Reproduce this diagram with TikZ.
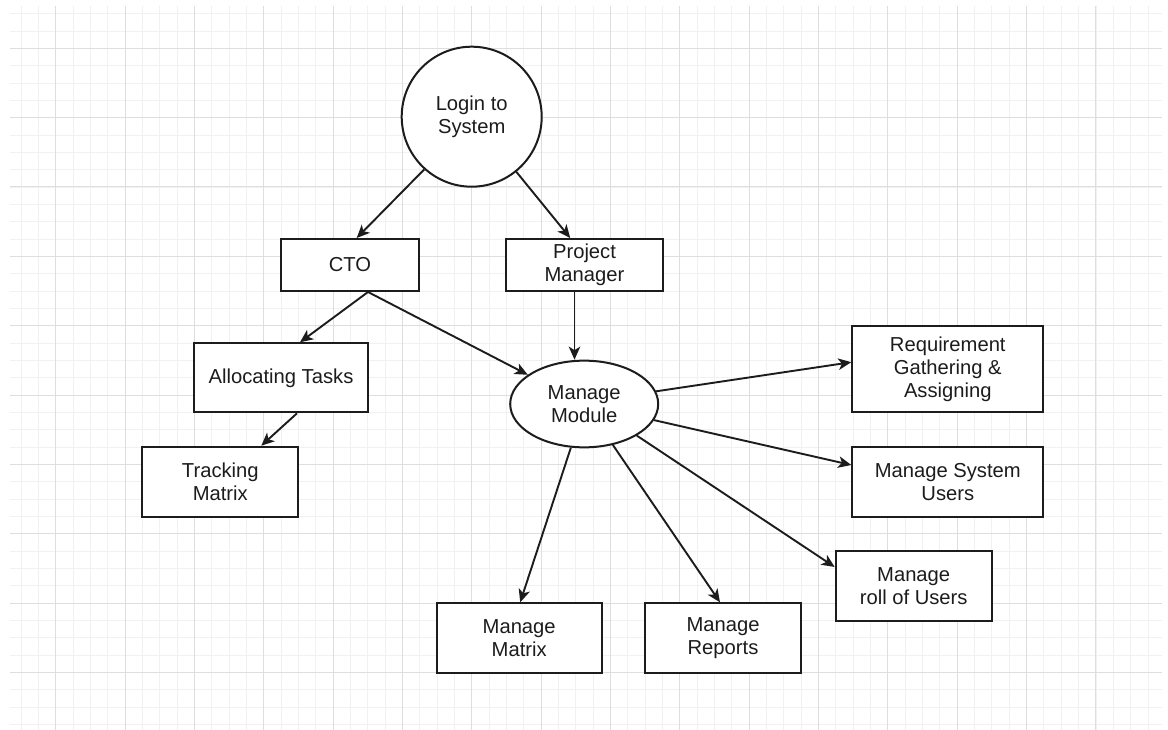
\documentclass[tikz,border=0pt]{standalone}
\usepackage{fontspec}
\setmainfont{Liberation Sans}
\usetikzlibrary{arrows.meta,shapes.geometric}
\definecolor{ink}{HTML}{1C1C1C}
\definecolor{gridminor}{HTML}{F1F1F1}
\definecolor{gridmajor}{HTML}{DEDEDE}
\tikzset{
  lbl/.style={font=\fontsize{20.2}{23.4}\selectfont, text=ink, align=center},
  box/.style={lbl, draw=ink, line width=2pt, fill=white, rectangle, inner sep=0pt},
  oval/.style={lbl, draw=ink, line width=2pt, fill=white, ellipse, inner sep=0pt},
  arr/.style={draw=ink, line width=1.9pt, -{Stealth[length=13pt,width=11.5pt,inset=3.5pt]}},
}
\begin{document}
\begin{tikzpicture}[x=1pt,y=-1pt]
  \useasboundingbox (0,0) rectangle (1168,730);
  \fill[white] (0,0) rectangle (1168,730);
  % background grid: fine lines, every fourth one darker
  \foreach \i in {-2,...,63}
    \draw[gridminor, line width=0.9pt] ({55.7+17.3375*\i},6) -- ({55.7+17.3375*\i},730);
  \foreach \j in {-2,...,39}
    \draw[gridminor, line width=0.9pt] (10,{48.3+17.3375*\j}) -- (1162,{48.3+17.3375*\j});
  \foreach \i in {0,...,15}
    \draw[gridmajor, line width=1pt] ({55.7+69.35*\i},6) -- ({55.7+69.35*\i},730);
  \foreach \j in {0,...,9}
    \draw[gridmajor, line width=1pt] (10,{48.3+69.35*\j}) -- (1162,{48.3+69.35*\j});

  % nodes
  \node[lbl, draw=ink, line width=2pt, fill=white, circle, inner sep=0pt, minimum size=140pt]
       (login) at (471.7,116.7) {Login to\\System};
  \node[box, minimum width=138pt, minimum height=52pt] (cto) at (350,265) {CTO};
  \node[box, minimum width=157pt, minimum height=52pt] (pm) at (584.5,265) {Project\\Manager};
  \node[box, minimum width=174pt, minimum height=69pt] (alloc) at (281,377.8) {Allocating Tasks};
  \node[box, minimum width=156pt, minimum height=70pt] (track) at (220.3,481.7) {Tracking\\Matrix};
  \node[oval, minimum width=148pt, minimum height=86.7pt] (mm) at (584.2,404) {Manage\\Module};
  \node[box, minimum width=191pt, minimum height=86pt] (req) at (947.8,369.2) {Requirement\\Gathering \&\\Assigning};
  \node[box, minimum width=191pt, minimum height=69.4pt] (msu) at (947.8,482) {Manage System\\Users};
  \node[box, minimum width=156pt, minimum height=69.5pt] (roll) at (913.7,586) {Manage\\roll of Users};
  \node[box, minimum width=165pt, minimum height=69.4pt] (matrix) at (519.2,638) {Manage\\Matrix};
  \node[box, minimum width=156pt, minimum height=69.4pt] (reports) at (723,638) {Manage\\Reports};

  % connectors
  \draw[arr] (login.228) -- ([xshift=6.7pt]cto.north);
  \draw[arr] (login.309) -- ([xshift=-14.3pt]pm.north);
  \draw[arr] ([xshift=18pt]cto.south) -- ([xshift=19pt]alloc.north);
  \draw[arr] ([xshift=18pt]cto.south) -- (mm);
  \draw[arr] ([xshift=16pt]alloc.south) -- ([xshift=41pt]track.north);
  \draw[arr] ([xshift=-10pt]pm.south) -- ([xshift=-10pt]pm.south |- mm.north);
  \draw[arr] (mm.10) -- ([yshift=7pt]req.west);
  \draw[arr] (mm.-13) -- ([yshift=17pt]msu.west);
  \draw[arr] (mm.-31) -- ([yshift=19pt]roll.west);
  \draw[arr] (mm.-55) -- ([xshift=-3pt]reports.north);
  \draw[arr] (mm.-107) -- ([xshift=1pt]matrix.north);
\end{tikzpicture}
\end{document}
